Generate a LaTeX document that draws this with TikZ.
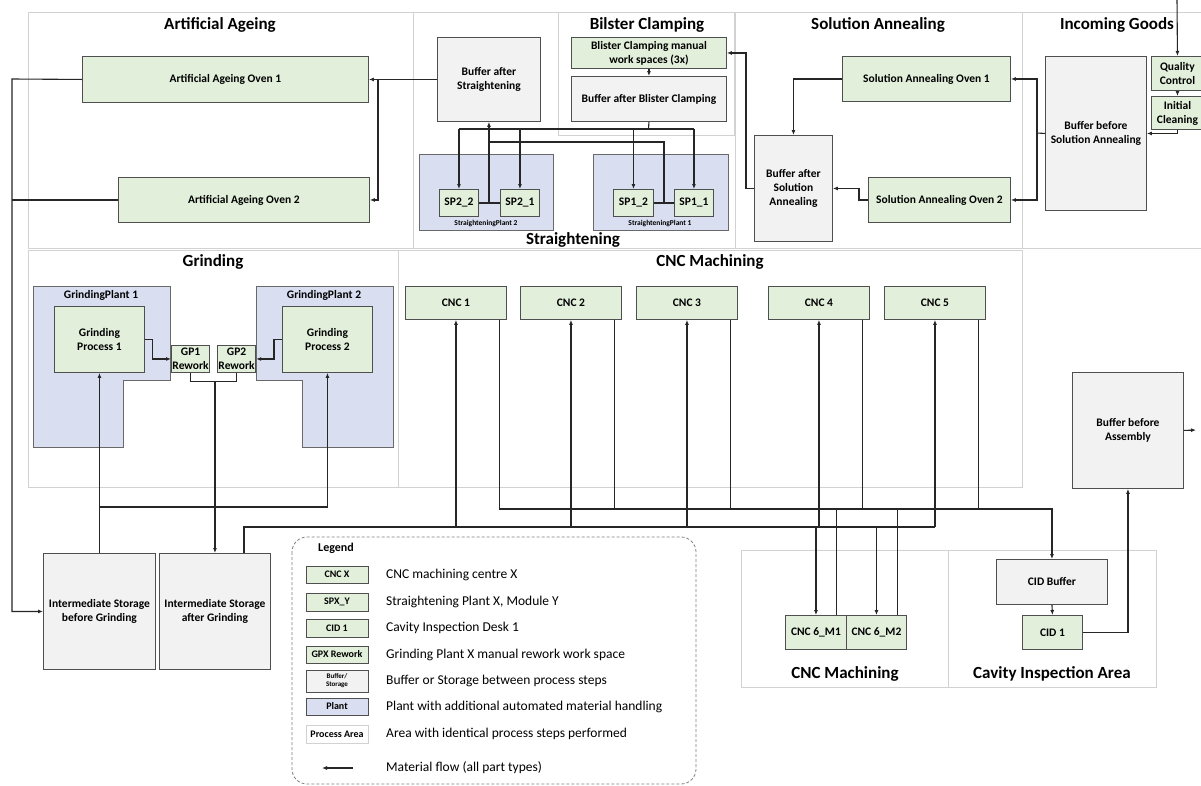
\documentclass[tikz,border=0pt]{standalone}
\usepackage{fontspec}
\setmainfont{Carlito}
\usetikzlibrary{arrows.meta,calc}
\definecolor{gfill}{HTML}{E2EFDA}
\definecolor{bfill}{HTML}{F2F2F2}
\definecolor{pfill}{HTML}{D9DEF1}
\definecolor{edgec}{HTML}{4F4F4F}
\definecolor{areac}{HTML}{D2D2D2}
\definecolor{flowc}{HTML}{262626}
\begin{document}
\begin{tikzpicture}[x=1pt,y=-1pt,
  base/.style={draw=edgec, line width=0.9pt, anchor=north west, align=center,
    font=\bfseries\fontsize{11.5}{14}\selectfont, inner sep=1pt},
  proc/.style={base, fill=gfill},
  buf/.style={base, fill=bfill},
  plantbox/.style={draw=edgec!85, fill=pfill, line width=0.9pt},
  areabox/.style={draw=areac, line width=1pt},
  atitle/.style={font=\bfseries\fontsize{17}{20}\selectfont, inner sep=0pt},
  plabel/.style={font=\bfseries\fontsize{11.5}{14}\selectfont, inner sep=0pt},
  slabel/.style={font=\bfseries\fontsize{7.5}{9}\selectfont, inner sep=0pt},
  conn/.style={draw=flowc, line width=1.1pt},
  flow/.style={conn, -{Latex[length=5pt,width=4pt]}},
  lsym/.style={draw=edgec, line width=0.9pt, anchor=center, align=center,
    minimum width=62pt, font=\bfseries\fontsize{10}{12}\selectfont, inner sep=1pt},
  ldesc/.style={anchor=west, font=\fontsize{13.5}{16}\selectfont, inner sep=0pt},
]
\useasboundingbox (0,0) rectangle (1201,785);
\clip (0,0) rectangle (1201,785);
\fill[white] (0,0) rectangle (1201,785);

% ---------- process areas ----------
\draw[areabox] (28,12) rectangle (413,248);
\draw[areabox] (413,12) rectangle (735,248);
\draw[areabox] (558,12) rectangle (734,135);
\draw[areabox] (735,12) rectangle (1022,248);
\draw[areabox] (1022,12) rectangle (1212,248);
\draw[areabox] (28,250) rectangle (398,487);
\draw[areabox] (398,250) rectangle (1022,487);
\draw[areabox] (741,550) rectangle (948,687);
\draw[areabox] (948,550) rectangle (1156,687);

\node[atitle] (tAA) at (220,25) {Artificial Ageing};
\node[atitle] (tST) at (573,240) {Straightening};
\node[atitle] (tBC) at (647,25) {Bilster Clamping};
\node[atitle] (tSA) at (878,25) {Solution Annealing};
\node[atitle] (tIG) at (1117,25) {Incoming Goods};
\node[atitle] (tGR) at (213,262) {Grinding};
\node[atitle] (tCNC) at (710,262) {CNC Machining};
\node[atitle] (tCNCb) at (845,674) {CNC Machining};
\node[atitle] (tCIA) at (1052,674) {Cavity Inspection Area};

% ---------- plants ----------
\draw[plantbox] (419,154) rectangle (553,230);
\draw[plantbox] (593,154) rectangle (728,230);
\node[slabel] (lsp2) at (486,223) {StraighteningPlant 2};
\node[slabel] (lsp1) at (660,223) {StraighteningPlant 1};
\draw[plantbox] (33,286) -- (170,286) -- (170,380) -- (123,380) -- (123,447) -- (33,447) -- cycle;
\draw[plantbox] (256,286) -- (393,286) -- (393,447) -- (302,447) -- (302,380) -- (256,380) -- cycle;
\node[plabel] (lgp1) at (101,295) {GrindingPlant 1};
\node[plabel] (lgp2) at (324,295) {GrindingPlant 2};

% ---------- nodes ----------
\node[proc, minimum width=286pt, minimum height=46pt] (aao1) at (82,56) {Artificial Ageing Oven 1};
\node[proc, minimum width=251pt, minimum height=45pt] (aao2) at (118,177) {Artificial Ageing Oven 2};
\node[buf, minimum width=103pt, minimum height=84pt] (bufStr) at (437,37) {Buffer after\\Straightening};
\node[proc, minimum width=155pt, minimum height=31pt] (bcm) at (571,37) {Blister Clamping manual\\work spaces (3x)};
\node[buf, minimum width=155pt, minimum height=45pt] (bufBC) at (571,76) {Buffer after Blister Clamping};
\node[proc, minimum width=39pt, minimum height=27pt] (sp2_2) at (439,189) {SP2\_2};
\node[proc, minimum width=39pt, minimum height=27pt] (sp2_1) at (500,189) {SP2\_1};
\node[proc, minimum width=40pt, minimum height=27pt] (sp1_2) at (613,189) {SP1\_2};
\node[proc, minimum width=39pt, minimum height=27pt] (sp1_1) at (674,189) {SP1\_1};
\node[proc, minimum width=168pt, minimum height=45pt] (sao1) at (842,56) {Solution Annealing Oven 1};
\node[proc, minimum width=142pt, minimum height=45pt] (sao2) at (868,177) {Solution Annealing Oven 2};
\node[buf, minimum width=78pt, minimum height=106pt] (bufSA) at (754,135) {Buffer after\\Solution\\Annealing};
\node[buf, minimum width=101pt, minimum height=154pt] (bufBSA) at (1045,56) {Buffer before\\Solution Annealing};
\node[proc, minimum width=52pt, minimum height=34pt] (qc) at (1151,56) {Quality\\Control};
\node[proc, minimum width=52pt, minimum height=33pt] (ic) at (1151,96) {Initial\\Cleaning};

\node[proc, minimum width=90pt, minimum height=66pt] (gpr1) at (54,306) {Grinding\\Process 1};
\node[proc, minimum width=90pt, minimum height=66pt] (gpr2) at (282,306) {Grinding\\Process 2};
\node[proc, minimum width=38pt, minimum height=27pt] (gp1rw) at (171,345) {GP1\\Rework};
\node[proc, minimum width=38pt, minimum height=27pt] (gp2rw) at (217,345) {GP2\\Rework};
\node[buf, minimum width=112pt, minimum height=116pt] (stBG) at (43,553) {Intermediate Storage\\before Grinding};
\node[buf, minimum width=111pt, minimum height=116pt] (stAG) at (159,553) {Intermediate Storage\\after Grinding};

\node[proc, minimum width=101pt, minimum height=33pt] (cnc1) at (405,286) {CNC 1};
\node[proc, minimum width=101pt, minimum height=33pt] (cnc2) at (520,286) {CNC 2};
\node[proc, minimum width=101pt, minimum height=33pt] (cnc3) at (636,286) {CNC 3};
\node[proc, minimum width=101pt, minimum height=33pt] (cnc4) at (768,286) {CNC 4};
\node[proc, minimum width=101pt, minimum height=33pt] (cnc5) at (884,286) {CNC 5};
\node[proc, minimum width=61pt, minimum height=34pt] (cnc6m1) at (785,615) {CNC 6\_M1};
\node[proc, minimum width=60pt, minimum height=34pt] (cnc6m2) at (846,615) {CNC 6\_M2};
\node[buf, minimum width=111pt, minimum height=45pt] (cidbuf) at (996,559) {CID Buffer};
\node[proc, minimum width=60pt, minimum height=34pt] (cid1) at (1022,615) {CID 1};
\node[buf, minimum width=111pt, minimum height=116pt] (bufAsm) at (1072,372) {Buffer before\\Assembly};

% ---------- connectors: artificial ageing ----------
\coordinate (jAA) at (378,79);
\coordinate (lAA) at (12,79);
\draw[flow] (bufStr.west) -- (aao1.east);
\draw[flow] (jAA) |- (aao2.east);
\draw[flow] (aao1.west) -- (lAA) |- (stBG.west);
\draw[conn] (aao2.west) -- (aao2.west -| lAA);

% ---------- straightening / blister ----------
\coordinate (bcj) at (648.5,129);
\coordinate (bcy) at (0,129);
\coordinate (ry) at (0,142);
\draw[flow] (bcm.south) -- (bufBC.north);
\draw[conn] (bufBC.south) -- (bcj);
\draw[conn] (sp2_2.north |- bcy) -- (sp1_1.north |- bcy);
\foreach \s in {sp2_2,sp2_1,sp1_2,sp1_1} \draw[flow] (\s.north |- bcy) -- (\s.north);
\draw[conn] (sp2_2.east) -- (sp2_1.west);
\draw[conn] (sp1_2.east) -- (sp1_1.west);
\coordinate (j1) at ($(sp1_2.east)!0.5!(sp1_1.west)$);
\draw[conn] (j1) |- (bufStr.south |- ry);
\draw[flow] (bufStr.south |- sp2_2.east) -- (bufStr.south);

% ---------- solution annealing / incoming ----------
\coordinate (jSA) at (1037,133);
\coordinate (inc) at (1177,0);
\draw[flow] (bufSA.west) -- ++(-8,0) |- (bcm.east);
\draw[flow] (sao1.west) -| (bufSA.north);
\draw[flow] (sao2.west) -- ++(-9,0) |- (bufSA.east);
\draw[conn] (bufBSA.west) -- (jSA);
\draw[flow] (jSA) |- (sao1.east);
\draw[flow] (jSA) |- (sao2.east);
\draw[flow] (inc) -- (qc.north);
\draw[flow] (qc.south) -- (ic.north);
\draw[flow] (ic.south) |- (bufBSA.east);

% ---------- grinding ----------
\coordinate (gj) at (213,381);
\coordinate (gj2) at (0,507);
\draw[flow] (gpr1.east) -- ++(8,0) |- (gp1rw.west);
\draw[flow] (gpr2.west) -- ++(-8,0) |- (gp2rw.east);
\draw[conn] (gp1rw.south) -- ++(0,9) -| (gp2rw.south);
\draw[flow] (stAG.north |- gj) -- (stAG.north);
\draw[flow] (stBG.north) -- (gpr1.south);
\draw[flow] (stBG.north |- gj2) -| (gpr2.south);

% ---------- CNC buses ----------
\coordinate (bIn) at (0,527);
\coordinate (bOut) at (0,509);
\coordinate (sAG) at ([xshift=29pt]stAG.north);
\draw[conn] (sAG) |- (cnc5.south |- bIn);
\foreach \n in {cnc1,cnc2,cnc3,cnc4,cnc5} \draw[flow] (\n.south |- bIn) -- (\n.south);
\draw[flow] (cnc6m1.north |- bIn) -- (cnc6m1.north);
\draw[flow] (cnc6m2.north |- bIn) -- (cnc6m2.north);
\coordinate (o1) at ([xshift=-7pt]cnc1.south east);
\coordinate (o2) at ([xshift=-7pt]cnc2.south east);
\coordinate (o3) at ([xshift=-7pt]cnc3.south east);
\coordinate (o4) at ([xshift=-7pt]cnc4.south east);
\coordinate (o5) at ([xshift=-7pt]cnc5.south east);
\coordinate (o6a) at ([xshift=-10pt]cnc6m1.north east);
\coordinate (o6b) at ([xshift=-9pt]cnc6m2.north east);
\draw[flow] (o1) |- (cidbuf.north |- bOut) -- (cidbuf.north);
\foreach \o in {o2,o3,o4,o5,o6a,o6b} \draw[conn] (\o) -- (\o |- bOut);

% ---------- cavity inspection / assembly ----------
\coordinate (outA) at (1196,430);
\draw[flow] (cidbuf.south) -- (cid1.north);
\draw[flow] (cid1.east) -| (bufAsm.south);
\draw[flow] (bufAsm.east) -- (outA);

% ---------- legend ----------
\draw[draw=gray, line width=0.8pt, dash pattern=on 3pt off 2pt, rounded corners=15pt] (292,537) rectangle (696,784);
\node[anchor=west, font=\bfseries\fontsize{12}{14}\selectfont, inner sep=0pt] (lgT) at (318,548) {Legend};
\node[lsym, fill=gfill, minimum height=17pt] (ls1) at (337,574.5) {CNC X};
\node[lsym, fill=gfill, minimum height=18pt] (ls2) at (337,602) {SPX\_Y};
\node[lsym, fill=gfill, minimum height=18pt] (ls3) at (337,628) {CID 1};
\node[lsym, fill=gfill, minimum height=17pt] (ls4) at (337,654.5) {GPX Rework};
\node[lsym, fill=bfill, minimum height=22pt, font=\bfseries\fontsize{7}{8}\selectfont] (ls5) at (337,681) {Buffer/\\Storage};
\node[lsym, fill=pfill, minimum height=17pt] (ls6) at (337,706.5) {Plant};
\node[lsym, draw=areac, fill=white, minimum height=18pt] (ls7) at (337,734) {Process Area};
\coordinate (la1) at (353,768);
\coordinate (la2) at (322,768);
\draw[flow] (la1) -- (la2);
\node[ldesc] (ld1) at (386,574.5) {CNC machining centre X};
\node[ldesc] (ld2) at (386,602) {Straightening Plant X, Module Y};
\node[ldesc] (ld3) at (386,628) {Cavity Inspection Desk 1};
\node[ldesc] (ld4) at (386,654.5) {Grinding Plant X manual rework work space};
\node[ldesc] (ld5) at (386,681) {Buffer or Storage between process steps};
\node[ldesc] (ld6) at (386,706.5) {Plant with additional automated material handling};
\node[ldesc] (ld7) at (386,734) {Area with identical process steps performed};
\node[ldesc] (ld8) at (386,768) {Material flow (all part types)};
\end{tikzpicture}
\end{document}
